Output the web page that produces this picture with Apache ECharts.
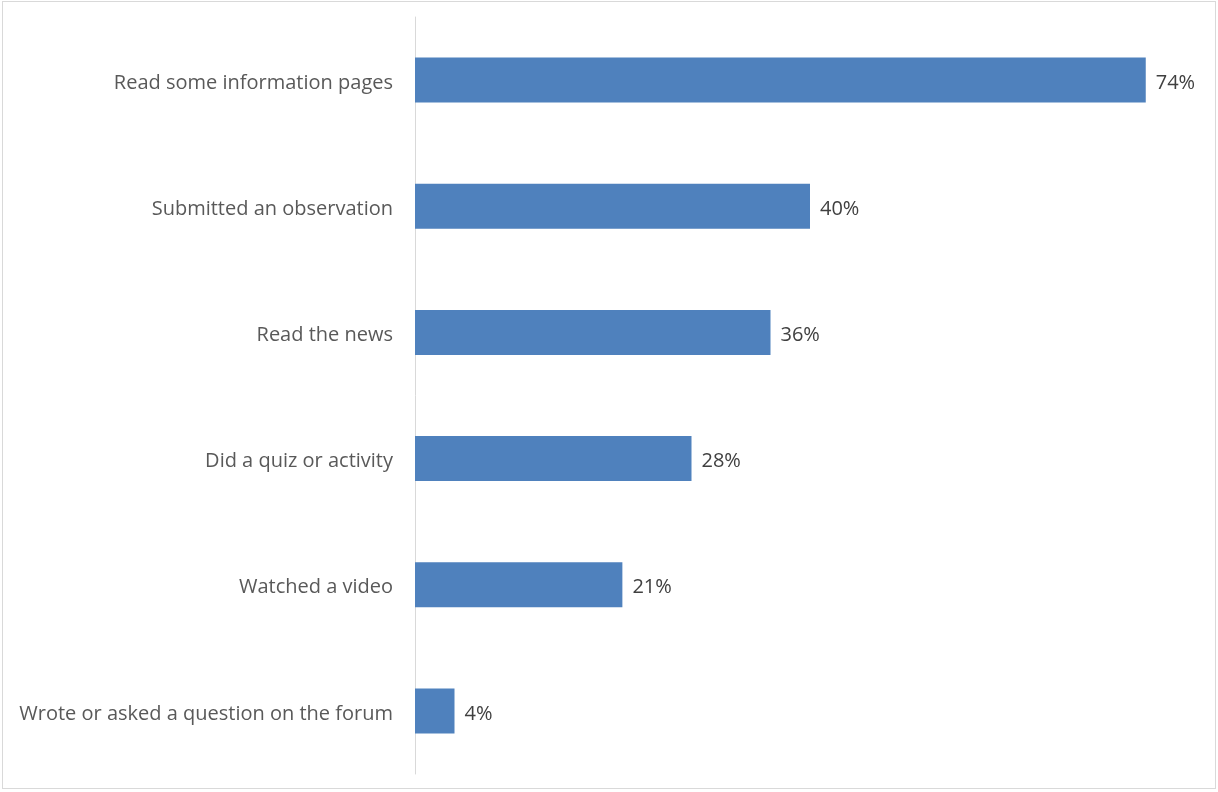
<!DOCTYPE html>
<html>
<head>
<meta charset="utf-8">
<style>
  html, body { margin: 0; padding: 0; background: #ffffff; }
  #frame { position: absolute; left: 2px; top: 1px; width: 1214px; height: 788px; border: 1px solid #d9d9d9; box-sizing: border-box; }
  #chart { position: absolute; left: 0; top: 0; width: 1218px; height: 792px; }
</style>
<script src="https://cdn.jsdelivr.net/npm/echarts@6/dist/echarts.min.js"></script>
</head>
<body>
<div id="frame"></div>
<div id="chart"></div>
<script>
// Activities, listed top to bottom
const categories = [
  'Read some information pages',
  'Submitted an observation',
  'Read the news',
  'Did a quiz or activity',
  'Watched a video',
  'Wrote or asked a question on the forum'
];
// Share of respondents (%)
const values = [74, 40, 36, 28, 21, 4];

const FONT = '"Open Sans", Lato, sans-serif';

const chart = echarts.init(document.getElementById('chart'), null, { renderer: 'canvas' });
chart.setOption({
  animation: false,
  backgroundColor: 'transparent',
  grid: { left: 415, right: 13, top: 17, bottom: 18, containLabel: false },
  xAxis: {
    type: 'value',
    min: 0,
    max: 80,
    show: false
  },
  yAxis: {
    type: 'category',
    inverse: true,
    data: categories,
    axisLine: { show: true, lineStyle: { color: '#d9d9d9', width: 1 } },
    axisTick: { show: false },
    axisLabel: {
      margin: 22,
      formatter: v => '{t|' + v + '}',
      rich: {
        t: {
          color: '#595959',
          fontFamily: FONT,
          fontSize: 20,
          padding: [6, 0, 0, 0]
        }
      }
    }
  },
  series: [{
    type: 'bar',
    data: values,
    barWidth: 45,
    itemStyle: { color: '#4f81bd' },
    label: {
      show: true,
      position: 'right',
      distance: 10,
      offset: [0, 3],
      color: '#404040',
      fontFamily: FONT,
      fontSize: 20,
      formatter: p => p.value + '%'
    }
  }]
});
</script>
</body>
</html>
